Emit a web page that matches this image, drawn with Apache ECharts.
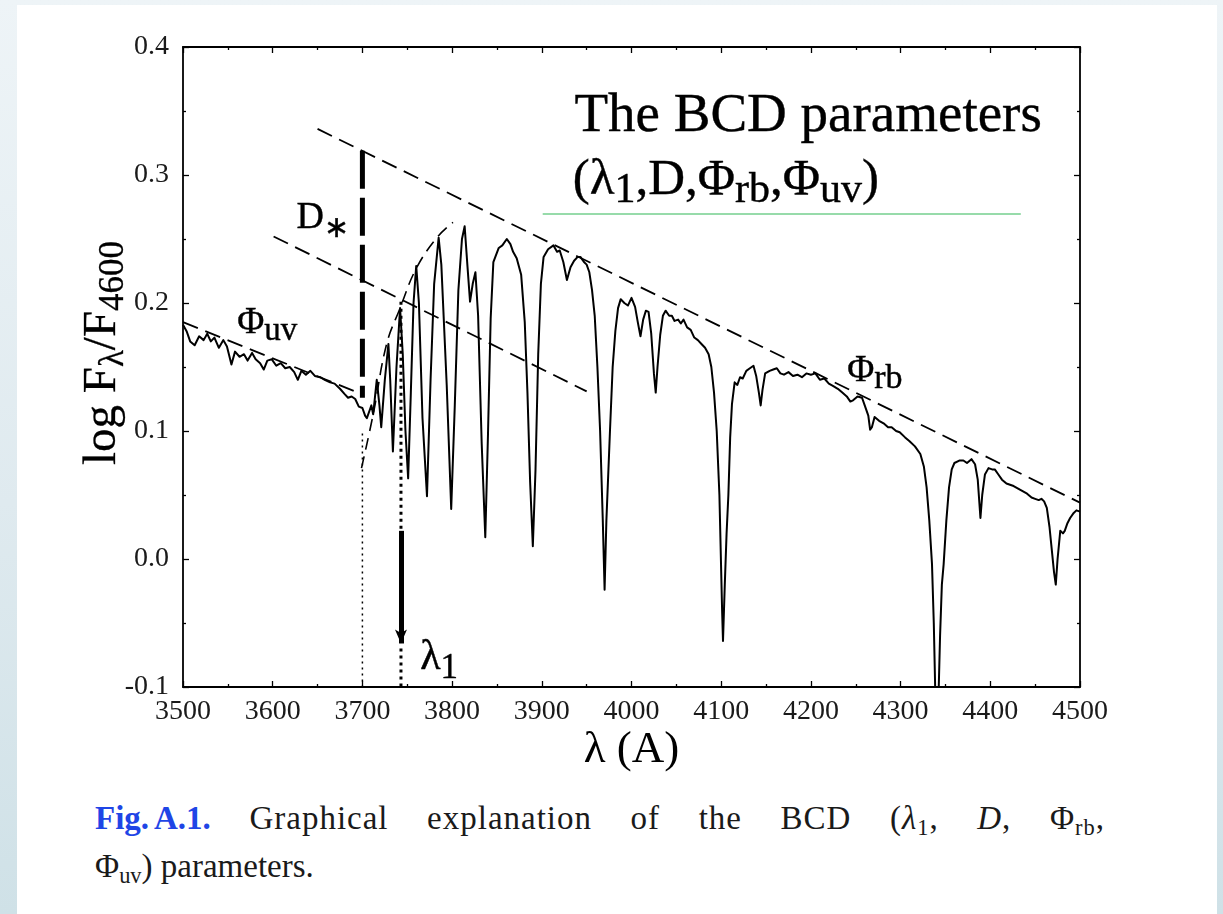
<!DOCTYPE html>
<html>
<head>
<meta charset="utf-8">
<script src="https://cdn.jsdelivr.net/npm/echarts@6/dist/echarts.min.js"></script>
<style>
  html, body { margin:0; padding:0; }
  body { width:1223px; height:914px; overflow:hidden; position:relative;
         background: linear-gradient(180deg, #eef4f7 0%, #dfeaef 55%, #cfe1e7 100%); }
  #panel { position:absolute; left:17px; top:5px; width:1200px; height:909px; background:#ffffff; }
  #chart { position:absolute; left:0; top:0; width:1223px; height:790px; }
  #cap { position:absolute; left:95px; top:796px; width:1010px; font-family:'Liberation Serif','Times New Roman',serif;
         font-size:33px; line-height:44px; color:#1a1a1a; }
  #cap .l1 { text-align:justify; text-align-last:justify; letter-spacing:1px; }
  #cap .fig { display:inline-block; color:#1f45e6; font-weight:bold; letter-spacing:0; }
  #cap sub { font-size:0.68em; vertical-align:-0.28em; line-height:0; }
</style>
</head>
<body>
<div id="panel"></div>
<div id="chart"></div>
<div id="cap">
  <div class="l1"><span class="fig">Fig.<span style="font-size:0.6em"> </span>A.1.</span> Graphical explanation of the BCD (<i>λ</i><sub>1</sub>, <i>D</i>, Φ<sub>rb</sub>,</div>
  <div>Φ<sub>uv</sub>) parameters.</div>
</div>
<script>
// ---------------- data ----------------
const wavelength = [
 3500,3504,3508,3513,3518,3523,3527,3531,3535,3540,3545,3549,3554,3558,3563,3568,3572,3577,3581,3586,
 3590,3594,3599,3604,3609,3614,3619,3624,3628,3632,3637,3642,3647,3653,3658,3664,3669,3675,3680,3684,
 3688,3692,3696,3700,3703,3705,3708,3710,3712,3716,3719,3721,3725,3729,3731,3734,3738,3742,3745,3748,
 3751,3754,3757,3760,3763,3767,3772,3776,3780,3785,3788,3794,3799,3803,3807,3811,3814,3817,3820,3823,
 3826,3829,3833,3837,3840,3843,3846,3852,3856,3861,3865,3868,3872,3877,3881,3884,3887,3890,3893,3896,
 3899,3902,3907,3913,3917,3920,3924,3928,3932,3936,3940,3943,3947,3950,3953,3956,3959,3962,3965,3968,
 3970,3972,3976,3979,3982,3985,3988,3992,3996,4000,4004,4007,4010,4013,4016,4019,4022,4025,4027,4029,
 4032,4035,4038,4042,4045,4048,4052,4055,4058,4062,4066,4070,4074,4078,4082,4086,4089,4092,4095,4098,
 4101,4102,4104,4106,4108,4110,4112,4115,4118,4121,4124,4128,4132,4136,4139,4142,4144,4146,4149,4154,
 4158,4162,4166,4170,4175,4180,4185,4190,4195,4200,4205,4210,4215,4220,4225,4230,4235,4240,4244,4247,
 4252,4257,4260,4264,4266,4268,4271,4276,4281,4286,4290,4295,4299,4305,4310,4316,4322,4326,4329,4332,
 4335,4337,4339,4342,4344,4346,4348,4351,4354,4357,4360,4366,4370,4374,4379,4383,4386,4389,4391,4394,
 4398,4402,4405,4409,4413,4418,4422,4426,4431,4436,4441,4446,4450,4454,4457,4460,4463,4466,4468,4471,
 4473,4475,4478,4481,4483,4486,4489,4493,4496,4500
];
const logFlux = [
 0.183,0.178,0.170,0.167,0.174,0.171,0.176,0.170,0.173,0.165,0.171,0.166,0.152,0.162,0.158,0.160,0.155,0.161,0.156,0.153,
 0.148,0.155,0.156,0.151,0.153,0.149,0.150,0.146,0.140,0.147,0.144,0.147,0.143,0.142,0.140,0.138,0.137,0.133,0.129,0.126,
 0.127,0.125,0.119,0.118,0.112,0.110,0.116,0.120,0.113,0.140,0.120,0.103,0.140,0.168,0.140,0.084,0.150,0.196,0.160,0.100,
 0.063,0.130,0.200,0.229,0.200,0.110,0.049,0.140,0.215,0.251,0.230,0.136,0.039,0.120,0.210,0.250,0.260,0.230,0.201,0.215,
 0.224,0.190,0.090,0.017,0.097,0.188,0.232,0.243,0.245,0.250,0.246,0.240,0.235,0.222,0.185,0.130,0.060,0.010,0.070,0.160,
 0.215,0.236,0.242,0.245,0.240,0.241,0.232,0.218,0.228,0.233,0.236,0.236,0.232,0.230,0.224,0.210,0.190,0.150,0.100,0.030,
 -0.024,0.030,0.100,0.150,0.178,0.196,0.203,0.200,0.198,0.204,0.197,0.185,0.174,0.187,0.194,0.193,0.176,0.145,0.130,0.150,
 0.175,0.190,0.194,0.190,0.190,0.186,0.187,0.184,0.187,0.181,0.179,0.173,0.171,0.168,0.165,0.160,0.150,0.130,0.100,0.050,
 -0.040,-0.064,-0.020,0.020,0.050,0.095,0.121,0.138,0.136,0.142,0.141,0.147,0.149,0.151,0.143,0.130,0.120,0.132,0.145,0.147,
 0.148,0.149,0.145,0.144,0.146,0.143,0.144,0.142,0.145,0.144,0.145,0.140,0.141,0.137,0.135,0.133,0.130,0.127,0.123,0.124,
 0.127,0.126,0.120,0.112,0.101,0.103,0.111,0.108,0.106,0.103,0.103,0.100,0.099,0.095,0.092,0.088,0.082,0.072,0.056,0.030,
 -0.004,-0.050,-0.115,-0.115,-0.060,-0.020,-0.004,0.030,0.056,0.070,0.075,0.077,0.077,0.075,0.078,0.074,0.062,0.032,0.050,0.066,
 0.071,0.070,0.070,0.066,0.062,0.059,0.058,0.057,0.055,0.053,0.051,0.048,0.047,0.046,0.047,0.045,0.040,0.025,0.011,-0.010,
 -0.020,0.000,0.022,0.020,0.022,0.028,0.032,0.036,0.038,0.037
];
// guide lines
const phiRbX = [3650, 4500],  phiRbY = [0.336, 0.044];
const dStarX = [3601, 3950],  dStarY = [0.252, 0.131];
const phiUvX = [3500, 3695],  phiUvY = [0.185, 0.130];
const envelopeX = [3699, 3712, 3727, 3742, 3760, 3783, 3801];
const envelopeY = [0.071, 0.113, 0.168, 0.196, 0.227, 0.251, 0.263];
const jumpX = 3700, jumpTop = 0.319, jumpBottom = 0.126, jumpDotTop = 0.098;
const lambda1X = 3743, lambda1DotTop = 0.201, arrowTop = 0.022, arrowTip = -0.066;
const greenX = [3901, 4434], greenY = [0.2695, 0.2695];
// axis ticks
const xTicks = [3500, 3600, 3700, 3800, 3900, 4000, 4100, 4200, 4300, 4400, 4500];
const yTicks = [-0.1, 0.0, 0.1, 0.2, 0.3, 0.4];

// ---------------- chart ----------------
const FONT = "'Liberation Serif','Times New Roman',serif";
const zip = (xs, ys) => xs.map((x, i) => [x, ys[i]]);
const chart = echarts.init(document.getElementById('chart'), null, { renderer: 'canvas' });

const axisCommonX = {
  type: 'value', min: xTicks[0], max: xTicks[xTicks.length - 1], interval: 100,
  splitLine: { show: false },
  axisLine: { show: true, onZero: false, lineStyle: { color: '#000', width: 1.8 } },
  axisTick: { show: true, inside: true, length: 6, lineStyle: { color: '#000', width: 1.3 } },
  minorTick: { show: true, splitNumber: 2, length: 3, lineStyle: { color: '#000', width: 1.3 } },
  minorSplitLine: { show: false }
};
const axisCommonY = {
  type: 'value', min: yTicks[0], max: yTicks[yTicks.length - 1], interval: 0.1,
  splitLine: { show: false },
  axisLine: { show: true, onZero: false, lineStyle: { color: '#000', width: 1.8 } },
  axisTick: { show: true, inside: true, length: 6, lineStyle: { color: '#000', width: 1.3 } },
  minorTick: { show: true, splitNumber: 2, length: 3, lineStyle: { color: '#000', width: 1.3 } },
  minorSplitLine: { show: false }
};

// main token sits at top of the line box; sub token is pushed down by top padding
const richMain = (fs, bw) => ({ fontFamily: FONT, fontSize: fs, lineHeight: fs, color: '#000', verticalAlign: 'top',
                                opacity: 1, textBorderColor: '#000', textBorderWidth: bw || 0 });
const richSub = (fs, pad, bw) => ({ fontFamily: FONT, fontSize: fs, lineHeight: fs + pad, height: fs, color: '#000',
                                verticalAlign: 'bottom', padding: [pad, 0, 0, 0], opacity: 1,
                                textBorderColor: '#000', textBorderWidth: bw || 0 });

const annotations = [
  { value: [3561, 0.198], text: '{m|Φ}{s|uv}', fs: 37, sfs: 33, pad: 10 },
  { value: [3627, 0.281], text: '{m|D}{s|∗}', fs: 38, sfs: 30, pad: 15 },
  { value: [3765, -0.061], text: '{m|λ}{s|1}', fs: 42, sfs: 35, pad: 15 },
  { value: [4241, 0.161], text: '{m|Φ}{s|rb}', fs: 37, sfs: 34, pad: 10 },
  { value: [3937, 0.367], text: '{m|The BCD parameters}', fs: 55, sfs: 36, pad: 0 },
  { value: [3935, 0.315], text: '{m|(λ}{s|1}{m|,D,Φ}{s|rb}{m|,Φ}{s|uv}{m|)}', fs: 51, sfs: 42, pad: 15 }
];

const dashed = (data, dash, width, extra) => Object.assign({
  type: 'line', data: data, showSymbol: false, symbol: 'none', silent: true, animation: false,
  lineStyle: { color: '#000', width: width, type: dash, cap: 'butt' }, z: 4
}, extra || {});

const option = {
  animation: false,
  backgroundColor: 'transparent',
  grid: { left: 183, top: 47, width: 897, height: 640, containLabel: false },
  xAxis: [
    Object.assign({}, axisCommonX, {
      position: 'bottom',
      axisLabel: { show: true, fontFamily: FONT, fontSize: 28, color: '#1a1a1a', margin: 11,
                   formatter: (v) => String(v) },
      name: 'λ (A)', nameLocation: 'middle', nameGap: 41, nameMoveOverlap: false,
      nameTextStyle: { fontFamily: FONT, fontSize: 45, color: '#000' }
    }),
    Object.assign({}, axisCommonX, { position: 'top', axisLabel: { show: false } })
  ],
  yAxis: [
    Object.assign({}, axisCommonY, {
      position: 'left',
      axisLabel: { show: true, fontFamily: FONT, fontSize: 28, color: '#1a1a1a', margin: 14,
                   formatter: (v) => v.toFixed(1) },
      name: '{m|log F}{s|λ}{m|/F}{s|4600}', nameLocation: 'middle', nameRotate: 90, nameGap: 52,
      nameMoveOverlap: false,
      nameTextStyle: { color: '#000', padding: [0, 0, 0, 28], rich: { m: richMain(47, 0.3), s: richSub(35, 17, 0.3) } }
    }),
    Object.assign({}, axisCommonY, { position: 'right', axisLabel: { show: false } })
  ],
  series: [
    { name: 'spectrum', type: 'line', data: zip(wavelength, logFlux), showSymbol: false, symbol: 'none',
      clip: true, silent: true, lineStyle: { color: '#000', width: 2, join: 'round' }, z: 5 },
    dashed(zip(phiRbX, phiRbY), [16, 8], 1.8),
    dashed(zip(dStarX, dStarY), [16, 8], 1.8),
    dashed(zip(phiUvX, phiUvY), [16, 8], 1.8),
    dashed(zip(envelopeX, envelopeY), [12, 7], 1.6, { smooth: 0.4 }),
    dashed([[jumpX, jumpTop], [jumpX, jumpBottom]], [38, 9], 5),
    dashed([[jumpX, jumpDotTop], [jumpX, yTicks[0]]], [2, 4], 1.5),
    dashed([[lambda1X, lambda1DotTop], [lambda1X, arrowTop]], [3, 4], 3),
    dashed([[lambda1X, arrowTip - 0.004], [lambda1X, yTicks[0]]], [3, 4], 3),
    { type: 'line', data: [], silent: true, z: 6,
      markLine: { silent: true, animation: false, symbol: ['none', 'arrow'], symbolSize: [9, 14],
        label: { show: false },
        lineStyle: { color: '#000', width: 5, type: 'solid' },
        data: [[{ coord: [lambda1X, arrowTop] }, { coord: [lambda1X, arrowTip] }]] } },
    dashed(zip(greenX, greenY), 'solid', 1.6, { lineStyle: { color: '#74cf8e', width: 1.6 }, z: 3 }),
    { type: 'scatter', symbolSize: 1, itemStyle: { color: 'transparent' }, silent: true, z: 10,
      data: annotations.map(a => ({
        value: a.value,
        label: { show: true, position: [0, 0], align: 'left', verticalAlign: 'top', color: '#000', opacity: 1,
                 fontFamily: FONT, formatter: a.text,
                 rich: { m: richMain(a.fs, 0.4), s: richSub(a.sfs, a.pad, 0.4) } }
      })) }
  ]
};
chart.setOption(option);
</script>
</body>
</html>
